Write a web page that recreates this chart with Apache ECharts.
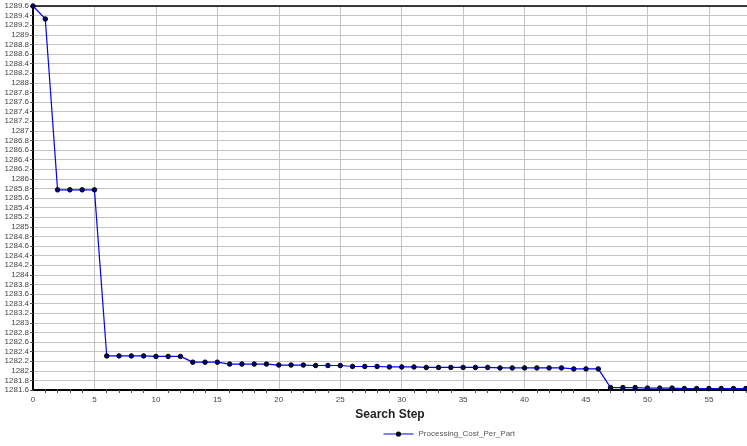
<!DOCTYPE html>
<html>
<head>
<meta charset="utf-8">
<script src="https://cdn.jsdelivr.net/npm/echarts@6/dist/echarts.min.js"></script>
<style>
  html, body { margin: 0; padding: 0; background: #fff; }
  #chart { width: 747px; height: 446px; }
</style>
</head>
<body>
<div id="chart"></div>
<script>
  // search step -> processing cost per part
  const steps = []
  for (let i = 0; i <= 58; i++) steps.push(i)
  const costValues = [
    1289.6, 1289.33, 1285.77, 1285.77, 1285.77, 1285.77,
    1282.31, 1282.31, 1282.31, 1282.31, 1282.30, 1282.30, 1282.30,
    1282.18, 1282.18, 1282.18,
    1282.14, 1282.14, 1282.14, 1282.14, 1282.12, 1282.12, 1282.12,
    1282.11, 1282.11, 1282.11, 1282.09, 1282.09, 1282.09,
    1282.08, 1282.08, 1282.08, 1282.07, 1282.07, 1282.07, 1282.07, 1282.07, 1282.07,
    1282.06, 1282.06, 1282.06, 1282.06, 1282.06, 1282.06,
    1282.04, 1282.04, 1282.04,
    1281.65, 1281.65, 1281.65, 1281.64, 1281.64, 1281.64,
    1281.63, 1281.63, 1281.63, 1281.63, 1281.63, 1281.63
  ]
  const seriesName = 'Processing_Cost_Per_Part'
  const xAxisName = 'Search Step'

  const chart = echarts.init(document.getElementById('chart'))
  chart.setOption({
    animation: false,
    grid: {
      left: 33,
      top: 6,
      right: 0,
      bottom: 56
    },
    legend: {
      bottom: 3,
      left: 378,
      itemWidth: 30,
      itemHeight: 4,
      itemGap: 4,
      lineStyle: { width: 1 },
      textStyle: { fontFamily: 'Liberation Sans', fontSize: 8, color: '#555' },
      data: [seriesName]
    },
    xAxis: [{
      type: 'value',
      min: 0,
      max: 58.1,
      interval: 5,
      name: xAxisName,
      nameLocation: 'middle',
      nameGap: 14,
      nameTextStyle: { fontFamily: 'Liberation Sans', fontSize: 12, fontWeight: 'bold', color: '#222' },
      axisLine: { onZero: false, lineStyle: { color: '#000', width: 2 } },
      axisTick: { show: false },
      minorTick: { show: true, splitNumber: 5, length: 3, lineStyle: { color: '#555' } },
      axisLabel: { fontFamily: 'Liberation Sans', fontSize: 8, color: '#444', margin: 6, showMaxLabel: false },
      splitLine: { show: true, lineStyle: { color: '#c4c4c4', width: 1 } }
    }, {
      // top frame line only
      type: 'value',
      position: 'top',
      min: 0,
      max: 58.1,
      axisLine: { show: true, onZero: false, lineStyle: { color: '#000', width: 1.5 } },
      axisTick: { show: false },
      axisLabel: { show: false },
      splitLine: { show: false }
    }],
    yAxis: {
      type: 'value',
      min: 1281.6,
      max: 1289.6,
      interval: 0.2,
      axisLine: { show: true, lineStyle: { color: '#000', width: 2 } },
      axisTick: { show: true, length: 3, lineStyle: { color: '#555' } },
      axisLabel: {
        fontFamily: 'Liberation Sans', fontSize: 8, color: '#444', margin: 4,
        formatter: v => String(+v.toFixed(1))
      },
      splitLine: { show: true, lineStyle: { color: '#c4c4c4', width: 1 } }
    },
    series: [{
      name: seriesName,
      type: 'line',
      data: steps.map((s, i) => [s, costValues[i]]),
      symbol: 'circle',
      symbolSize: 4.5,
      lineStyle: { color: '#0000ff', width: 1.2 },
      itemStyle: { color: '#000080', borderColor: '#000', borderWidth: 1 }
    }]
  })
</script>
</body>
</html>
